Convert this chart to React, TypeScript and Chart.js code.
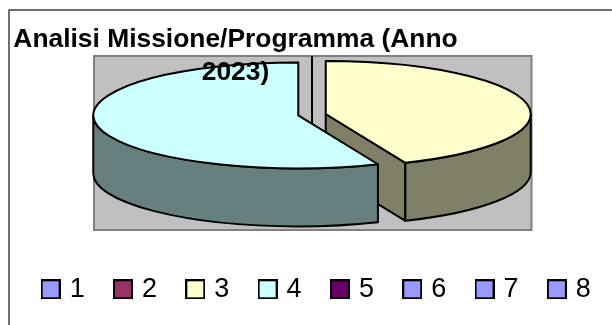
import React, { useEffect, useRef } from "react";
import { Chart, registerables } from "chart.js";

Chart.register(...registerables);

const categories = ["1", "2", "3", "4", "5", "6", "7", "8"];
const values = [0, 0, 43.65, 56.35, 0, 0, 0, 0];
const sliceColors = ["#9999ff", "#993366", "#ffffcc", "#ccffff", "#660066", "#9999ff", "#9999ff", "#9999ff"];
const titleLines = ["Analisi Missione/Programma (Anno", "2023)"];

const PLOT = { left: 94, top: 56, right: 531.5, bottom: 230 };
const PIE = { cx: 312, cy: 114.7, rx: 205, ry: 53, depth: 58, zeroRy: 58 };

function shade(hex: string) {
  const n = parseInt(hex.slice(1), 16);
  const f = (v: number) => Math.round(v * 0.5);
  return `rgb(${f((n >> 16) & 255)},${f((n >> 8) & 255)},${f(n & 255)})`;
}

function legendSwatch(color: string) {
  const c = document.createElement("canvas");
  c.width = 20;
  c.height = 20;
  const g = c.getContext("2d")!;
  g.fillStyle = color;
  g.fillRect(1, 1, 18, 18);
  g.strokeStyle = "#000";
  g.lineWidth = 2;
  g.strokeRect(1, 1, 18, 18);
  return c;
}

const pie3d = {
  id: "pie3d",
  afterLayout(chart: any) {
    const t = chart.titleBlock;
    t.left = 0;
    t.right = 471;
    t.top = 23;
    const l = chart.legend;
    const w = l.right - l.left;
    l.left = 12;
    l.right = 12 + w;
    l.top = 243;
  },
  beforeDraw(chart: any) {
    const ctx = chart.ctx;
    ctx.save();
    // outer frame
    ctx.strokeStyle = "#404040";
    ctx.lineWidth = 1.5;
    ctx.strokeRect(9, 10, 800, 600);
    // plot plate
    ctx.fillStyle = "#c0c0c0";
    ctx.strokeStyle = "#808080";
    ctx.lineWidth = 2;
    ctx.fillRect(PLOT.left, PLOT.top, PLOT.right - PLOT.left, PLOT.bottom - PLOT.top);
    ctx.strokeRect(PLOT.left, PLOT.top, PLOT.right - PLOT.left, PLOT.bottom - PLOT.top);

    ctx.strokeStyle = "#000";
    ctx.lineWidth = 2;
    ctx.lineJoin = "round";
    const arcs = chart.getDatasetMeta(0).data as any[];

    // zero-valued slices collapse into a single radial line
    arcs.filter((a) => a.circumference === 0).forEach((a) => {
      const x = PIE.cx + PIE.rx * Math.cos(a.startAngle);
      const y = PIE.cy + PIE.zeroRy * Math.sin(a.startAngle);
      ctx.beginPath();
      ctx.moveTo(x, y);
      ctx.lineTo(PIE.cx, PIE.cy);
      ctx.lineTo(PIE.cx, PIE.cy + PIE.depth);
      ctx.stroke();
    });

    arcs.filter((a) => a.circumference > 0).forEach((a) => {
      const a0 = a.startAngle;
      const a1 = a.endAngle;
      const mid = (a0 + a1) / 2;
      const off = a.options.offset;
      const cx = PIE.cx + off * Math.cos(mid);
      const cy = PIE.cy + off * (PIE.ry / PIE.rx) * Math.sin(mid);
      const color = a.options.backgroundColor;
      const px = (t: number) => cx + PIE.rx * Math.cos(t);
      const py = (t: number) => cy + PIE.ry * Math.sin(t);
      ctx.fillStyle = shade(color);
      // visible cut faces
      [[a0, Math.cos(a0) < -1e-6], [a1, Math.cos(a1) > 1e-6]].forEach(([t, visible]: any) => {
        if (!visible) return;
        ctx.beginPath();
        ctx.moveTo(cx, cy);
        ctx.lineTo(px(t), py(t));
        ctx.lineTo(px(t), py(t) + PIE.depth);
        ctx.lineTo(cx, cy + PIE.depth);
        ctx.closePath();
        ctx.fill();
        ctx.stroke();
      });
      // front wall
      const w0 = Math.max(a0, 0);
      const w1 = Math.min(a1, Math.PI);
      if (w1 > w0) {
        ctx.beginPath();
        ctx.ellipse(cx, cy, PIE.rx, PIE.ry, 0, w0, w1);
        ctx.lineTo(px(w1), py(w1) + PIE.depth);
        ctx.ellipse(cx, cy + PIE.depth, PIE.rx, PIE.ry, 0, w1, w0, true);
        ctx.closePath();
        ctx.fill();
        ctx.stroke();
      }
      // top face
      ctx.fillStyle = color;
      ctx.beginPath();
      ctx.moveTo(cx, cy);
      ctx.ellipse(cx, cy, PIE.rx, PIE.ry, 0, a0, a1);
      ctx.closePath();
      ctx.fill();
      ctx.stroke();
    });
    ctx.restore();
  },
  beforeDatasetsDraw() {
    return false;
  },
};

export default function App() {
  const ref = useRef<HTMLCanvasElement>(null);
  useEffect(() => {
    const chart = new Chart(ref.current!, {
      type: "pie",
      data: {
        labels: categories,
        datasets: [
          {
            data: values,
            backgroundColor: sliceColors,
            borderColor: "#000",
            borderWidth: 2,
            offset: 14,
          },
        ],
      },
      options: {
        responsive: false,
        animation: false,
        plugins: {
          title: {
            display: true,
            text: titleLines,
            color: "#000",
            padding: 0,
            font: { family: "'Liberation Sans', Arial", size: 26.4, weight: "bold", lineHeight: 1.25 },
          },
          legend: {
            display: true,
            position: "bottom",
            labels: {
              usePointStyle: true,
              pointStyleWidth: 11,
              boxHeight: 20,
              padding: 32.8,
              color: "#000",
              font: { family: "'Liberation Sans', Arial", size: 27 },
              generateLabels(c: any) {
                const base = (Chart as any).overrides.pie.plugins.legend.labels.generateLabels(c);
                return base.map((item: any) => ({ ...item, pointStyle: legendSwatch(item.fillStyle) }));
              },
            },
          },
          tooltip: { enabled: false },
        },
      },
      plugins: [pie3d],
    } as any);
    return () => chart.destroy();
  }, []);
  return (
    <canvas
      ref={ref}
      width={612}
      height={325}
      style={{ position: "absolute", left: 0, top: 0, width: 612, height: 325, background: "#fff" }}
    />
  );
}
